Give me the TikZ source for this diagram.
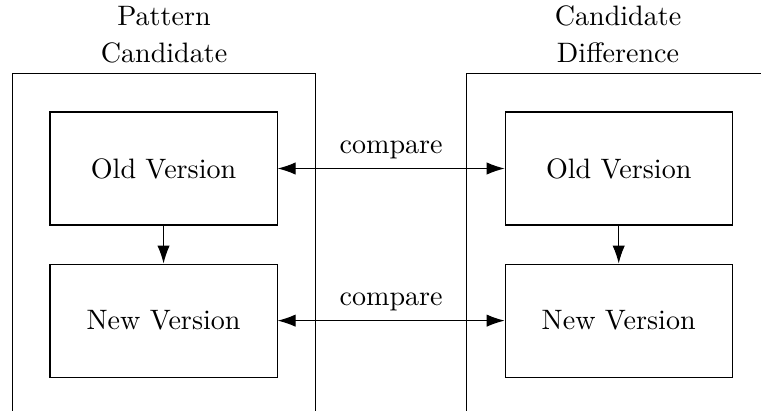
\documentclass[tikz,border=0pt]{standalone}
\usepackage{tikz}
\usetikzlibrary{arrows.meta, positioning}

\tikzset{
  version/.style={draw, minimum width=2.84cm, minimum height=1.414cm},
  group/.style={draw, minimum width=3.79cm, minimum height=5cm, anchor=north west},
  tip/.tip={Latex[length=6.4pt,width=4.4pt]},
  link/.style={-tip},
  pair/.style={tip-tip},
}

\begin{document}
\begin{tikzpicture}
        \useasboundingbox (0,0) rectangle (9.52,-5.14);
        \clip (0,0) rectangle (9.52,-5.14);

        % the two groups, open at the bottom
        \node[group] (pc) at (0.15,-0.913) {};
        \node[group] (cd) at (5.83,-0.913) {};
        \node[above,align=center] (pcT) at (pc.north) {Pattern\\[1.2pt]Candidate};
        \node[above,align=center] (cdT) at (cd.north) {Candidate\\[1.2pt]Difference};

        \node[version] (oldL) at (2.046,-2.108) {Old Version};
        \node[version,below=0.475cm of oldL] (newL) {New Version};
        \node[version,right=2.84cm of oldL] (oldR) {Old Version};
        \node[version,below=0.475cm of oldR] (newR) {New Version};

        \draw[link] (oldL) -- (newL);
        \draw[link] (oldR) -- (newR);
        \draw[pair] (oldL) -- node[above] {compare} (oldR);
        \draw[pair] (newL) -- node[above] {compare} (newR);
      \end{tikzpicture}
\end{document}
